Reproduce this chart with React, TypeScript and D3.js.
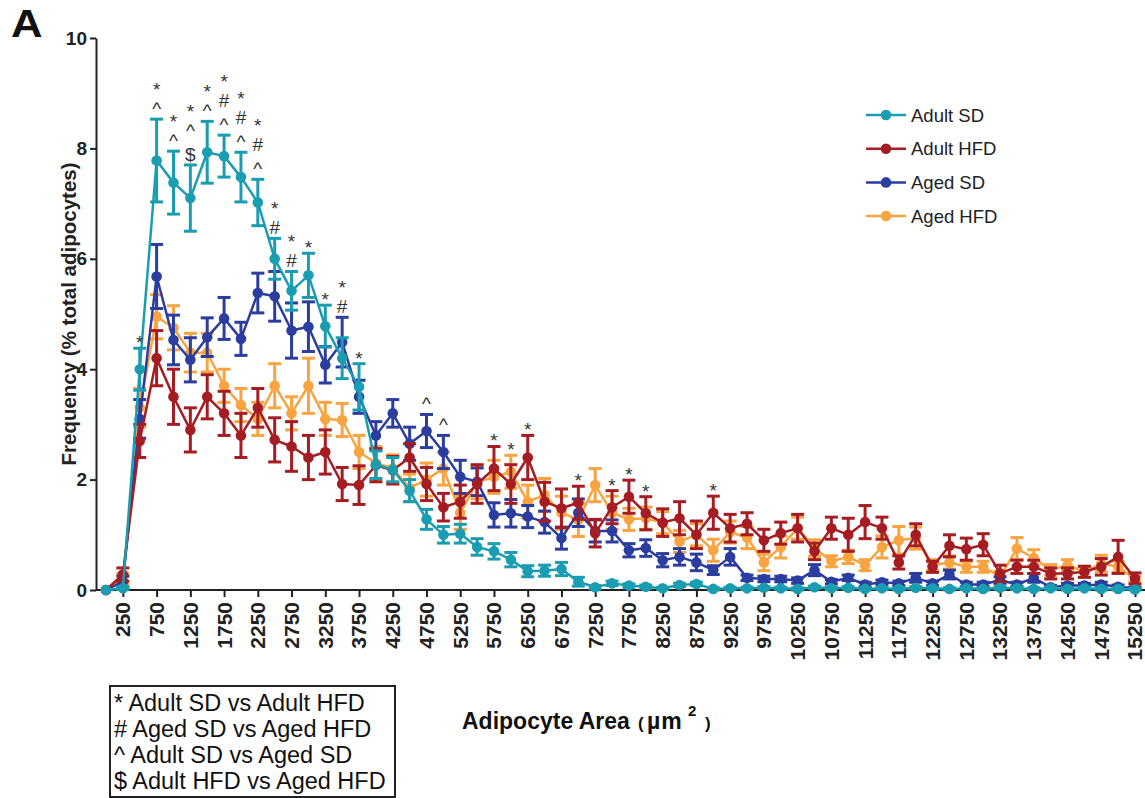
import React, { useEffect, useRef } from "react";
import * as d3 from "d3";

const categories = [0, 250, 500, 750, 1000, 1250, 1500, 1750, 2000, 2250, 2500, 2750, 3000, 3250, 3500, 3750, 4000, 4250, 4500, 4750, 5000, 5250, 5500, 5750, 6000, 6250, 6500, 6750, 7000, 7250, 7500, 7750, 8000, 8250, 8500, 8750, 9000, 9250, 9500, 9750, 10000, 10250, 10500, 10750, 11000, 11250, 11500, 11750, 12000, 12250, 12500, 12750, 13000, 13250, 13500, 13750, 14000, 14250, 14500, 14750, 15000, 15250];

const xTickValues = [250, 750, 1250, 1750, 2250, 2750, 3250, 3750, 4250, 4750, 5250, 5750, 6250, 6750, 7250, 7750, 8250, 8750, 9250, 9750, 10250, 10750, 11250, 11750, 12250, 12750, 13250, 13750, 14250, 14750, 15250];
const xTickLabels = ["250", "750", "1250", "1750", "2250", "2750", "3250", "3750", "4250", "4750", "5250", "5750", "6250", "6750", "7250", "7750", "8250", "8750", "9250", "9750", "10250", "10750", "11250", "11750", "12250", "12750", "13250", "13750", "14250", "14750", "15250"];
const yTickValues = [0, 2, 4, 6, 8, 10];

const adultSD = [0, 0.03, 4.0, 7.78, 7.38, 7.1, 7.93, 7.86, 7.48, 7.02, 6.0, 5.42, 5.7, 4.78, 4.2, 3.68, 2.27, 2.18, 1.8, 1.28, 1.0, 1.02, 0.78, 0.7, 0.55, 0.34, 0.35, 0.38, 0.15, 0.05, 0.12, 0.08, 0.06, 0.03, 0.09, 0.11, 0.02, 0.03, 0.03, 0.04, 0.03, 0.02, 0.05, 0.03, 0.04, 0.02, 0.03, 0.02, 0.04, 0.03, 0.02, 0.03, 0.02, 0.04, 0.03, 0.02, 0.03, 0.02, 0.03, 0.02, 0.02, 0.01];
const adultSDErr = [0, 0.02, 0.38, 0.75, 0.57, 0.6, 0.56, 0.38, 0.45, 0.42, 0.37, 0.35, 0.4, 0.38, 0.37, 0.42, 0.25, 0.22, 0.2, 0.18, 0.15, 0.17, 0.15, 0.14, 0.13, 0.1, 0.1, 0.12, 0.08, 0.03, 0.04, 0.03, 0.03, 0.02, 0.03, 0.03, 0.02, 0.02, 0.02, 0.02, 0.02, 0.02, 0.02, 0.02, 0.02, 0.02, 0.02, 0.02, 0.02, 0.02, 0.02, 0.02, 0.02, 0.02, 0.02, 0.02, 0.02, 0.02, 0.02, 0.02, 0.02, 0.02];

const adultHFD = [0, 0.28, 2.7, 4.2, 3.5, 2.9, 3.5, 3.2, 2.8, 3.3, 2.72, 2.6, 2.4, 2.5, 1.92, 1.9, 2.26, 2.17, 2.4, 1.92, 1.5, 1.6, 1.92, 2.2, 1.92, 2.4, 1.6, 1.48, 1.58, 1.03, 1.5, 1.69, 1.39, 1.22, 1.3, 1.0, 1.4, 1.12, 1.2, 0.9, 1.03, 1.12, 0.7, 1.12, 1.0, 1.23, 1.12, 0.5, 1.0, 0.42, 0.8, 0.74, 0.82, 0.3, 0.42, 0.42, 0.3, 0.3, 0.33, 0.42, 0.6, 0.21];
const adultHFDErr = [0, 0.12, 0.3, 0.5, 0.5, 0.4, 0.4, 0.4, 0.4, 0.35, 0.4, 0.45, 0.4, 0.4, 0.3, 0.35, 0.3, 0.25, 0.25, 0.3, 0.25, 0.3, 0.35, 0.4, 0.35, 0.4, 0.35, 0.35, 0.3, 0.25, 0.3, 0.3, 0.3, 0.25, 0.3, 0.25, 0.3, 0.25, 0.2, 0.2, 0.2, 0.25, 0.15, 0.2, 0.3, 0.3, 0.2, 0.12, 0.2, 0.1, 0.2, 0.2, 0.2, 0.15, 0.12, 0.12, 0.1, 0.1, 0.1, 0.15, 0.3, 0.1];

const agedSD = [0, 0.15, 3.1, 5.68, 4.53, 4.17, 4.58, 4.92, 4.55, 5.38, 5.32, 4.7, 4.77, 4.08, 4.49, 3.5, 2.8, 3.2, 2.65, 2.88, 2.5, 2.05, 1.96, 1.36, 1.39, 1.33, 1.23, 0.94, 1.4, 1.07, 1.07, 0.72, 0.76, 0.54, 0.6, 0.5, 0.36, 0.6, 0.22, 0.2, 0.2, 0.17, 0.36, 0.15, 0.22, 0.1, 0.14, 0.12, 0.22, 0.12, 0.28, 0.1, 0.1, 0.18, 0.1, 0.22, 0.05, 0.08, 0.08, 0.1, 0.06, 0.03];
const agedSDErr = [0, 0.1, 0.35, 0.58, 0.45, 0.4, 0.35, 0.38, 0.3, 0.36, 0.45, 0.5, 0.45, 0.33, 0.45, 0.3, 0.25, 0.25, 0.3, 0.3, 0.3, 0.3, 0.25, 0.22, 0.25, 0.2, 0.2, 0.2, 0.25, 0.2, 0.2, 0.12, 0.15, 0.12, 0.15, 0.15, 0.08, 0.15, 0.05, 0.05, 0.05, 0.05, 0.1, 0.04, 0.05, 0.04, 0.04, 0.04, 0.08, 0.04, 0.08, 0.04, 0.04, 0.06, 0.04, 0.08, 0.03, 0.04, 0.04, 0.04, 0.03, 0.02];

const agedHFD = [0, 0.2, 3.3, 4.95, 4.75, 4.3, 4.3, 3.7, 3.35, 3.1, 3.7, 3.2, 3.7, 3.1, 3.08, 2.5, 2.3, 2.2, 1.85, 2.0, 2.2, 1.4, 1.95, 2.05, 2.14, 1.6, 1.72, 1.4, 1.27, 1.9, 1.4, 1.28, 1.3, 1.22, 0.88, 1.0, 0.72, 1.05, 0.95, 0.5, 0.78, 1.12, 0.76, 0.52, 0.6, 0.45, 0.78, 0.9, 0.94, 0.45, 0.5, 0.42, 0.42, 0.24, 0.75, 0.58, 0.36, 0.45, 0.33, 0.48, 0.42, 0.2];
const agedHFDErr = [0, 0.1, 0.35, 0.4, 0.4, 0.35, 0.35, 0.3, 0.3, 0.3, 0.4, 0.3, 0.5, 0.3, 0.3, 0.3, 0.3, 0.25, 0.25, 0.3, 0.3, 0.3, 0.3, 0.3, 0.3, 0.3, 0.3, 0.3, 0.3, 0.3, 0.3, 0.2, 0.2, 0.2, 0.2, 0.2, 0.2, 0.2, 0.2, 0.15, 0.2, 0.2, 0.15, 0.1, 0.12, 0.1, 0.2, 0.25, 0.2, 0.1, 0.12, 0.1, 0.1, 0.1, 0.2, 0.15, 0.1, 0.1, 0.1, 0.15, 0.1, 0.05];

const seriesNames = ["Adult SD", "Adult HFD", "Aged SD", "Aged HFD"];
const seriesColors = ["#1b9db1", "#a51d23", "#2b3d9f", "#f9a440"];
const seriesValues = [adultSD, adultHFD, agedSD, agedHFD];
const seriesErrors = [adultSDErr, adultHFDErr, agedSDErr, agedHFDErr];
const drawOrder = [3, 2, 1, 0];

const sigCategories = [500, 750, 1000, 1250, 1500, 1750, 2000, 2250, 2500, 2750, 3000, 3250, 3500, 3750, 4750, 5000, 5750, 6000, 6250, 7000, 7500, 7750, 8000, 9000];
const sigSymbols = [["*"], ["^", "*"], ["^", "*"], ["$", "^", "*"], ["^", "*"], ["^", "#", "*"], ["^", "#", "*"], ["^", "#", "*"], ["#", "*"], ["#", "*"], ["*"], ["*"], ["#", "*"], ["*"], ["^"], ["^"], ["*"], ["*"], ["*"], ["*"], ["*"], ["*"], ["*"], ["*"]];

const footnoteLines = ["* Adult SD vs Adult HFD", "# Aged SD vs Aged HFD", "^ Adult SD vs Aged SD", "$ Adult HFD vs Aged HFD"];

const FONT = "'Liberation Sans', Arial, Helvetica, sans-serif";

export default function App() {
  const ref = useRef<SVGSVGElement>(null);

  useEffect(() => {
    const svg = d3.select(ref.current);
    svg.selectAll("*").remove();

    const x = d3.scaleLinear().domain([0, 15250]).range([106, 1135]);
    const y = d3.scaleLinear().domain([0, 10]).range([590, 38]);
    const axisLeftX = 96;

    svg.append("rect").attr("width", 1145).attr("height", 798).attr("fill", "#fff");

    // Panel letter
    svg.append("text").attr("transform", "translate(11,37) scale(1.12,1)").attr("font-family", FONT)
      .attr("font-weight", "bold").attr("font-size", 39).attr("fill", "#111").text("A");

    // Y axis
    const gy = svg.append("g").attr("transform", `translate(${axisLeftX},0)`)
      .call(d3.axisLeft(y).tickValues(yTickValues).tickSizeInner(6).tickSizeOuter(0).tickPadding(3).tickFormat(d3.format("d")));
    gy.select(".domain").attr("stroke", "#222").attr("stroke-width", 2);
    gy.selectAll(".tick line").attr("stroke", "#222").attr("stroke-width", 2);
    gy.selectAll(".tick text").attr("font-family", FONT).attr("font-weight", "bold")
      .attr("font-size", 19).attr("fill", "#222");

    // X axis
    const labelMap = new Map(xTickValues.map((v, i) => [v, xTickLabels[i]]));
    const gx = svg.append("g").attr("transform", `translate(0,${y(0)})`)
      .call(d3.axisBottom(x).tickValues(xTickValues).tickSizeInner(7).tickSizeOuter(0)
        .tickFormat((d: any) => labelMap.get(d) ?? String(d)));
    gx.select(".domain").remove();
    gx.append("line").attr("x1", axisLeftX).attr("x2", 1145).attr("y1", 0).attr("y2", 0)
      .attr("stroke", "#222").attr("stroke-width", 2);
    gx.selectAll(".tick line").attr("stroke", "#222").attr("stroke-width", 2);
    gx.selectAll(".tick text")
      .attr("font-family", FONT).attr("font-weight", "bold").attr("font-size", 21).attr("fill", "#222")
      .attr("transform", "rotate(-90)").attr("x", -12).attr("y", 0).attr("dy", "0.33em")
      .attr("text-anchor", "end");

    // Series
    const line = d3.line<number>().x((_, i) => x(categories[i])).y((d) => y(d));
    drawOrder.forEach((s) => {
      const vals = seriesValues[s];
      const errs = seriesErrors[s];
      const color = seriesColors[s];
      const g = svg.append("g");
      g.append("path").attr("d", line(vals) as string).attr("fill", "none")
        .attr("stroke", color).attr("stroke-width", 2.5).attr("stroke-linejoin", "round");
      const eb = g.append("g").attr("stroke", color).attr("stroke-width", 3);
      vals.forEach((v, i) => {
        const e = errs[i];
        if (e <= 0) return;
        const cx = x(categories[i]);
        const y1 = y(v + e);
        const y2 = y(Math.max(0, v - e));
        eb.append("line").attr("x1", cx).attr("x2", cx).attr("y1", y1).attr("y2", y2);
        eb.append("line").attr("x1", cx - 6.5).attr("x2", cx + 6.5).attr("y1", y1).attr("y2", y1);
        eb.append("line").attr("x1", cx - 6.5).attr("x2", cx + 6.5).attr("y1", y2).attr("y2", y2);
      });
      g.selectAll("circle.pt").data(vals).enter().append("circle")
        .attr("cx", (_, i) => x(categories[i])).attr("cy", (d) => y(d)).attr("r", 5.3).attr("fill", color);
    });

    // Significance annotations
    const ga = svg.append("g").attr("font-family", FONT).attr("font-size", 19).attr("fill", "#333")
      .attr("text-anchor", "middle");
    sigCategories.forEach((c, k) => {
      const i = categories.indexOf(c);
      const top = d3.max(seriesValues.map((vals, s) => vals[i] + seriesErrors[s][i])) as number;
      const base = y(top) - 4;
      sigSymbols[k].forEach((sym, j) => {
        ga.append("text").attr("x", x(c)).attr("y", base - j * 24 + (sym === "*" ? 5 : 0)).text(sym);
      });
    });

    // Legend
    const lg = svg.append("g");
    seriesNames.forEach((name, s) => {
      const cy = 115 + s * 33.7;
      lg.append("line").attr("x1", 866).attr("x2", 906).attr("y1", cy).attr("y2", cy)
        .attr("stroke", seriesColors[s]).attr("stroke-width", 2.5);
      lg.append("circle").attr("cx", 886).attr("cy", cy).attr("r", 5.3).attr("fill", seriesColors[s]);
      lg.append("text").attr("x", 911).attr("y", cy).attr("dy", "0.36em").attr("font-family", FONT)
        .attr("font-size", 18.5).attr("fill", "#222").text(name);
    });

    // Y title
    svg.append("text").attr("transform", `translate(76,${(y(0) + y(10)) / 2}) rotate(-90)`)
      .attr("text-anchor", "middle").attr("font-family", FONT).attr("font-weight", "bold")
      .attr("font-size", 20.5).attr("fill", "#222").text("Frequency (% total adipocytes)");

    // X title
    const tg = svg.append("g").attr("font-family", FONT).attr("font-weight", "bold").attr("fill", "#111");
    tg.append("text").attr("x", 462).attr("y", 729).attr("font-size", 23).text("Adipocyte Area");
    tg.append("text").attr("x", 638).attr("y", 729).attr("font-size", 17).text("(");
    tg.append("text").attr("x", 647).attr("y", 729).attr("font-size", 23).attr("letter-spacing", 1).text("µm");
    tg.append("text").attr("x", 688).attr("y", 716).attr("font-size", 15).text("2");
    tg.append("text").attr("x", 705).attr("y", 729).attr("font-size", 17).text(")");

    // Footnote box
    svg.append("rect").attr("x", 110).attr("y", 686).attr("width", 285).attr("height", 111)
      .attr("fill", "#fff").attr("stroke", "#222").attr("stroke-width", 2);
    footnoteLines.forEach((t, i) => {
      svg.append("text").attr("x", 114).attr("y", 711 + i * 26).attr("font-family", FONT)
        .attr("font-size", 23.5).attr("fill", "#111").text(t);
    });
  }, []);

  return (
    <svg ref={ref} width={1145} height={798}
      style={{ position: "absolute", left: 0, top: 0, display: "block" }} />
  );
}
